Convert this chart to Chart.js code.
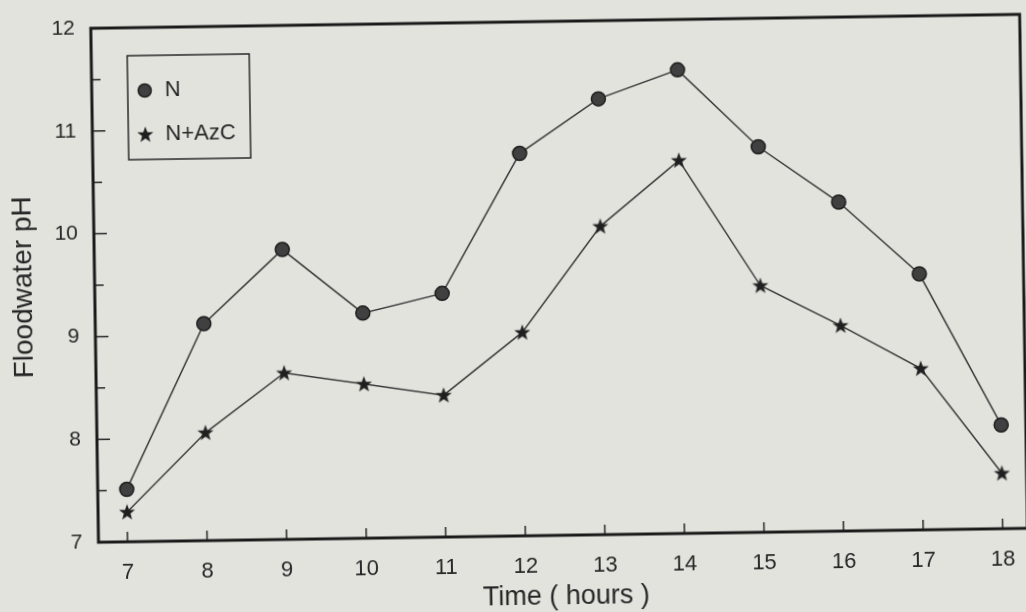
<!DOCTYPE html>
<html><head><meta charset="utf-8">
<script src="https://cdn.jsdelivr.net/npm/chart.js@4"></script>
<style>
html,body{margin:0;padding:0;background:#e3e3de;overflow:hidden;width:1026px;height:612px;}
#wrap{width:1026px;height:612px;transform:rotate(-0.86deg);transform-origin:513px 306px;}
canvas{display:block;}
</style></head><body><div id="wrap"><canvas id="c" width="1026" height="612"></canvas></div>
<script>
// ---- data ----
const hours = [7, 8, 9, 10, 11, 12, 13, 14, 15, 16, 17, 18];
const seriesN = [7.51, 9.11, 9.82, 9.19, 9.37, 10.72, 11.24, 11.51, 10.75, 10.2, 9.49, 8.01];
const seriesNAzC = [7.29, 8.05, 8.62, 8.5, 8.38, 8.98, 10.0, 10.63, 9.4, 9.0, 8.57, 7.54];
const xTickValues = [7, 8, 9, 10, 11, 12, 13, 14, 15, 16, 17, 18];
const yMajorTicks = [7, 8, 9, 10, 11, 12];
const yMinorTicks = [7.5, 8.5, 9.5, 10.5, 11.5];
const seriesNames = ['N', 'N+AzC'];
const xTitle = 'Time ( hours )';
const yTitle = 'Floodwater pH';

// ---- styles ----
const INK = '#262626';
const LINE = '#3a3a3a';
const FONT = "'Liberation Sans', Arial, sans-serif";

function makeStar(color) {
  const c = document.createElement('canvas');
  c.width = 18; c.height = 18;
  const g = c.getContext('2d');
  g.fillStyle = color;
  g.beginPath();
  for (let i = 0; i < 10; i++) {
    const r = i % 2 === 0 ? 8.5 : 3.5;
    const a = -Math.PI / 2 + i * Math.PI / 5;
    const px = 9 + r * Math.cos(a), py = 9.5 + r * Math.sin(a);
    if (i === 0) g.moveTo(px, py); else g.lineTo(px, py);
  }
  g.closePath();
  g.fill();
  return c;
}
const starImg = makeStar('#1f1f1f');

const decor = {
  id: 'decor',
  afterDraw(chart) {
    const { ctx, chartArea: a, scales: { x, y } } = chart;
    ctx.save();
    // inner ticks
    ctx.strokeStyle = INK;
    ctx.lineWidth = 1.5;
    ctx.beginPath();
    xTickValues.forEach(v => {
      const px = x.getPixelForValue(v);
      ctx.moveTo(px, a.bottom); ctx.lineTo(px, a.bottom - 10);
    });
    yMajorTicks.forEach(v => {
      const py = y.getPixelForValue(v);
      ctx.moveTo(a.left, py); ctx.lineTo(a.left + 13, py);
    });
    yMinorTicks.forEach(v => {
      const py = y.getPixelForValue(v);
      ctx.moveTo(a.left, py); ctx.lineTo(a.left + 9, py);
    });
    ctx.stroke();
    // frame
    ctx.strokeStyle = '#1a1a1a';
    ctx.lineWidth = 3;
    ctx.strokeRect(a.left, a.top, a.right - a.left, a.bottom - a.top);
    // legend box
    const lx = a.left + 36, ly = a.top + 28, lw = 122, lh = 104;
    ctx.lineWidth = 1.5;
    ctx.strokeStyle = '#2a2a2a';
    ctx.strokeRect(lx, ly, lw, lh);
    ctx.fillStyle = INK;
    ctx.font = '22px ' + FONT;
    ctx.textAlign = 'left';
    ctx.textBaseline = 'middle';
    // N
    ctx.beginPath();
    ctx.arc(lx + 17, ly + 35, 6.5, 0, Math.PI * 2);
    ctx.fillStyle = '#404040';
    ctx.fill();
    ctx.strokeStyle = '#1e1e1e';
    ctx.lineWidth = 1.5;
    ctx.stroke();
    ctx.fillStyle = INK;
    ctx.fillText(seriesNames[0], lx + 37, ly + 35);
    // N+AzC
    ctx.drawImage(starImg, lx + 17 - 9, ly + 79 - 9);
    ctx.fillText(seriesNames[1], lx + 37, ly + 79);
    // titles
    ctx.font = '27px ' + FONT;
    ctx.textAlign = 'center';
    ctx.fillText(xTitle, 562, 598);
    ctx.save();
    ctx.translate(24, 280);
    ctx.rotate(-Math.PI / 2);
    ctx.font = '28px ' + FONT;
    ctx.fillText(yTitle, 0, 0);
    ctx.restore();
    ctx.restore();
  }
};

new Chart(document.getElementById('c'), {
  type: 'line',
  data: {
    datasets: [
      {
        label: seriesNames[0],
        data: hours.map((h, i) => ({ x: h, y: seriesN[i] })),
        borderColor: LINE, borderWidth: 1.5,
        pointStyle: 'circle', pointRadius: 7, pointHoverRadius: 7,
        pointBackgroundColor: '#404040', pointBorderColor: '#1e1e1e', pointBorderWidth: 1.5,
        tension: 0, fill: false
      },
      {
        label: seriesNames[1],
        data: hours.map((h, i) => ({ x: h, y: seriesNAzC[i] })),
        borderColor: LINE, borderWidth: 1.5,
        pointStyle: starImg, pointRadius: 8,
        tension: 0, fill: false
      }
    ]
  },
  options: {
    responsive: false,
    animation: false,
    events: [],
    layout: { autoPadding: false, padding: { top: 22, right: 2, left: 0, bottom: 0 } },
    plugins: { legend: { display: false }, tooltip: { enabled: false } },
    scales: {
      x: {
        type: 'linear', min: 6.635, max: 18.31,
        afterBuildTicks: s => { s.ticks = xTickValues.map(v => ({ value: v })); },
        afterFit: s => { s.height = 76; s.paddingLeft = 0; s.paddingRight = 0; },
        grid: { display: false, drawTicks: false },
        border: { display: false },
        ticks: { color: INK, font: { family: FONT, size: 22 }, padding: 18, maxRotation: 0, autoSkip: false,
                 callback: v => String(v) }
      },
      y: {
        type: 'linear', min: 7, max: 12,
        afterBuildTicks: s => { s.ticks = yMajorTicks.map(v => ({ value: v })); },
        afterFit: s => { s.width = 95; s.paddingTop = 0; s.paddingBottom = 0; },
        grid: { display: false, drawTicks: false },
        border: { display: false },
        ticks: { color: INK, font: { family: FONT, size: 21 }, padding: 16, autoSkip: false,
                 callback: v => String(v) }
      }
    }
  },
  plugins: [decor]
});
</script></body></html>
